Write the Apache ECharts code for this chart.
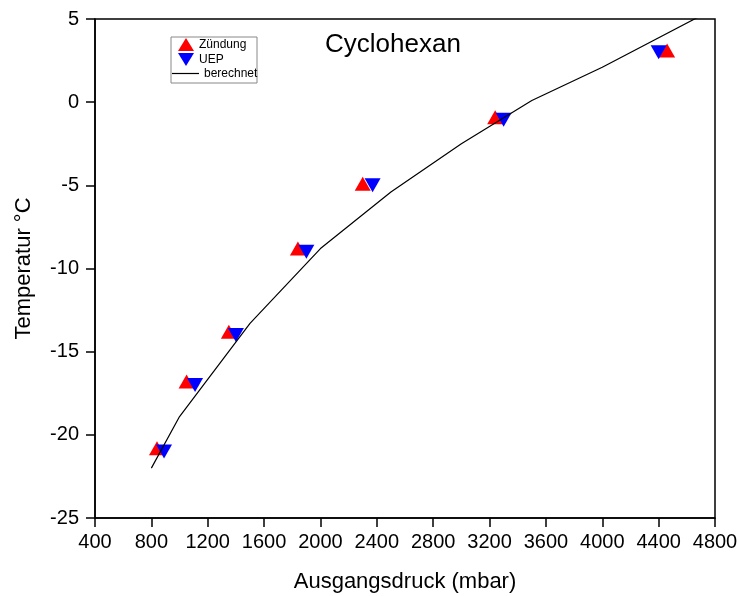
<!DOCTYPE html>
<html>
<head>
<meta charset="utf-8">
<script src="https://cdn.jsdelivr.net/npm/echarts@6/dist/echarts.min.js"></script>
<style>
  html, body { margin: 0; padding: 0; background: #fff; }
  #chart { width: 740px; height: 596px; }
</style>
</head>
<body>
<div id="chart"></div>
<script>
// Zündung (ignition) measurements: [pressure mbar, temperature °C]
var zuendung = [
    [840, -20.8], [1050, -16.8], [1350, -13.8], [1840, -8.8],
    [2300, -4.9], [3240, -0.9], [4460, 3.1]
];

// UEP measurements
var uep = [
    [890, -21.0], [1110, -17.0], [1400, -14.0], [1900, -9.0],
    [2370, -5.0], [3300, -1.05], [4400, 3.0]
];

// berechnet (calculated curve)
var berechnet = [
    [800, -22.0], [1000, -18.9], [1500, -13.3], [2000, -8.8],
    [2500, -5.4], [3000, -2.5], [3500, 0.1], [4000, 2.1],
    [4700, 5.2]
];

var fontName = 'Liberation Sans, Arial, sans-serif';
var downTriangle = 'path://M0,0L20,0L10,17Z';
var lineIcon = 'path://M0,0L30,0L30,1L0,1Z';

var chart = echarts.init(document.getElementById('chart'));

var option = {
    backgroundColor: '#fff',
    animation: false,
    textStyle: { fontFamily: fontName, color: '#000' },
    title: {
        text: 'Cyclohexan',
        left: 325,
        top: 32,
        padding: 0,
        textStyle: { fontFamily: fontName, fontSize: 26, fontWeight: 'normal', color: '#000' }
    },
    graphic: [
        {
            // legend frame
            type: 'rect',
            shape: { x: 171, y: 37, width: 86, height: 46 },
            style: { fill: 'none', stroke: '#888', lineWidth: 1 },
            z: 1
        }
    ],
    legend: [
        {
            data: [
                { name: 'Zündung', icon: 'triangle' },
                { name: 'UEP', icon: downTriangle }
            ],
            orient: 'vertical',
            left: 178,
            top: 38,
            padding: 0,
            itemWidth: 16,
            itemHeight: 13,
            itemGap: 2,
            symbolKeepAspect: false,
            textStyle: { fontFamily: fontName, fontSize: 12, color: '#000' }
        },
        {
            data: [{ name: 'berechnet', icon: lineIcon }],
            left: 172,
            top: 67.5,
            padding: 0,
            itemWidth: 27,
            itemHeight: 1.2,
            symbolKeepAspect: false,
            textStyle: { fontFamily: fontName, fontSize: 12, color: '#000' }
        }
    ],
    grid: {
        left: 95,
        right: 25,
        top: 19,
        bottom: 78,
        show: true,
        borderColor: '#000',
        borderWidth: 1.5,
        containLabel: false,
        outerBoundsMode: 'none'
    },
    xAxis: {
        type: 'value',
        min: 400,
        max: 4800,
        interval: 400,
        name: 'Ausgangsdruck (mbar)',
        nameLocation: 'middle',
        nameGap: 53,
        nameTextStyle: { fontFamily: fontName, fontSize: 22, color: '#000' },
        axisLine: { show: true, onZero: false, lineStyle: { color: '#000', width: 1.5 } },
        axisTick: { show: true, inside: false, length: 9, lineStyle: { color: '#000', width: 1.5 } },
        axisLabel: {
            fontFamily: fontName, fontSize: 20, color: '#000', margin: 14,
            formatter: function (v) { return String(v); }
        },
        splitLine: { show: false }
    },
    yAxis: {
        type: 'value',
        min: -25,
        max: 5,
        interval: 5,
        name: 'Temperatur °C',
        nameLocation: 'middle',
        nameGap: 60,
        nameTextStyle: { fontFamily: fontName, fontSize: 22, color: '#000' },
        axisLine: { show: true, onZero: false, lineStyle: { color: '#000', width: 1.5 } },
        axisTick: { show: true, inside: false, length: 9, lineStyle: { color: '#000', width: 1.5 } },
        axisLabel: {
            fontFamily: fontName, fontSize: 20, color: '#000', margin: 16,
            formatter: function (v) { return String(v); }
        },
        splitLine: { show: false }
    },
    series: [
        {
            name: 'Zündung',
            type: 'scatter',
            data: zuendung,
            symbol: 'triangle',
            symbolSize: [16, 14],
            itemStyle: { color: '#ff0000', opacity: 1 }
        },
        {
            name: 'UEP',
            type: 'scatter',
            data: uep,
            symbol: downTriangle,
            symbolSize: [16, 14],
            symbolKeepAspect: false,
            itemStyle: { color: '#0000ff', opacity: 1 }
        },
        {
            name: 'berechnet',
            type: 'line',
            data: berechnet,
            symbol: 'none',
            showSymbol: false,
            clip: true,
            lineStyle: { color: '#000', width: 1.2 },
            itemStyle: { color: '#000' }
        }
    ]
};

chart.setOption(option);
</script>
</body>
</html>
